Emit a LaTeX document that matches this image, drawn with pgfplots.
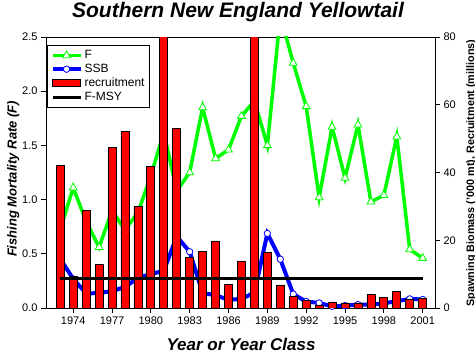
\documentclass[border=0pt]{standalone}
\usepackage{fontspec}
\setmainfont{Liberation Sans}
\usepackage{pgfplots}
\usepackage{pgfplotstable}
\pgfplotsset{compat=1.18}
\definecolor{fgreen}{RGB}{0,255,0}
\definecolor{sblue}{RGB}{0,0,255}
\definecolor{rred}{RGB}{255,0,0}
\pgfplotsset{
  longline legend/.style={legend image code/.code={\draw[mark repeat=2, mark phase=2, ##1]
    plot coordinates {(0bp,0bp) (14bp,0bp) (28bp,0bp)};}},
  rbar legend/.style={legend image code/.code={\draw[##1] (0bp,-3.5bp) rectangle (28bp,3.5bp);}},
}

\pgfplotstableread{
year F SSB R
1973 0.72 14.5 42.2
1974 1.11 8.6 9.2
1975 0.80 4.3 28.8
1976 0.56 4.4 12.9
1977 0.90 5.0 47.4
1978 0.72 6.2 52.2
1979 0.88 8.9 30.0
1980 1.22 10.0 41.9
1981 1.62 11.0 90
1982 1.08 21.1 53.0
1983 1.25 16.6 14.8
1984 1.85 4.4 16.8
1985 1.38 3.8 19.8
1986 1.46 2.4 7.0
1987 1.77 2.7 13.9
1988 1.91 4.5 90
1989 1.50 22.0 16.4
1990 2.70 14.4 6.8
1991 2.26 4.1 3.5
1992 1.86 1.9 2.1
1993 1.02 1.5 0.9
1994 1.67 0.5 1.8
1995 1.20 0.7 1.5
1996 1.69 1.0 1.5
1997 0.98 1.0 4.1
1998 1.04 1.4 3.2
1999 1.58 2.0 5.0
2000 0.54 2.7 2.4
2001 0.46 2.5 2.7
}\datatable

\begin{document}
\begin{tikzpicture}
\path[use as bounding box] (-46bp,-48bp) rectangle (429bp,308bp);
\pgfplotsset{
  every axis/.append style={scale only axis, width=389bp, height=271bp,
    xmin=1971.9, xmax=2001.95, at={(0,0)}, anchor=south west},
  tick label style={font=\fontsize{11bp}{13bp}\selectfont},
  /pgf/number format/assume math mode=true,
}
% left axis with F
\begin{axis}[
  ymin=0, ymax=2.5,
  ytick={0,0.5,1,1.5,2,2.5},
  y tick label style={/pgf/number format/.cd, fixed, fixed zerofill, precision=1},
  xtick={1974,1977,1980,1983,1986,1989,1992,1995,1998,2001},
  x tick label style={/pgf/number format/1000 sep={}},
  tick align=outside, xtick pos=lower, ytick pos=left,
  major tick length=5bp,
  axis line style={line width=0.8bp}, tick style={line width=0.8bp, black},
]
\addplot[fgreen, line width=3.5bp, mark=triangle*, mark size=4.5bp,
  mark options={fill=white, draw=fgreen, line width=0.8bp}]
  table[x=year,y=F]{\datatable};
\end{axis}

% SSB on right scale, beneath the bars
\begin{axis}[ymin=0, ymax=80, hide axis]
\addplot[sblue, line width=4bp, mark=*, mark size=3.2bp,
  mark options={fill=white, draw=sblue, line width=0.8bp}]
  table[x=year,y=SSB]{\datatable};
\end{axis}

% recruitment bars and right axis
\begin{axis}[
  ymin=0, ymax=80, axis y line*=right, axis x line=none,
  ytick={0,20,40,60,80}, tick align=outside, major tick length=5bp,
  axis line style={line width=0.8bp}, tick style={line width=0.8bp, black},
]
\addplot[ybar, bar width=8bp, bar shift=0pt, fill=rred, draw=black, line width=0.8bp]
  table[x=year,y=R]{\datatable};
\end{axis}

% F-MSY and legend
\begin{axis}[
  ymin=0, ymax=2.5, hide axis,
  legend cell align=left,
  legend style={at={(axis description cs:0.003,0.970)}, anchor=north west,
    draw=black, line width=0.8bp, fill=white,
    font=\fontsize{12bp}{14bp}\selectfont,
    inner xsep=3bp, inner ysep=3bp, row sep=0bp,
    nodes={inner sep=2bp}},
]
\addlegendimage{longline legend, fgreen, line width=3.5bp, mark=triangle*, mark size=4.5bp,
  mark options={fill=white, draw=fgreen, line width=0.8bp}}
\addlegendentry{F}
\addlegendimage{longline legend, sblue, line width=4bp, mark=*, mark size=3.2bp,
  mark options={fill=white, draw=sblue, line width=0.8bp}}
\addlegendentry{SSB}
\addlegendimage{rbar legend, fill=rred, draw=black, line width=0.8bp}
\addlegendentry{recruitment\hspace{4bp}}
\addplot[longline legend, black, line width=2.5bp] coordinates {(1973,0.27) (2001,0.27)};
\addlegendentry{F-MSY}
\end{axis}

\node[font=\fontsize{21bp}{23bp}\selectfont\bfseries\itshape, anchor=base]
  at (192bp,290bp) {Southern New England Yellowtail};
\node[font=\fontsize{17bp}{19bp}\selectfont\bfseries\itshape, anchor=base]
  at (195bp,-42bp) {Year or Year Class};
\node[font=\fontsize{13bp}{15bp}\selectfont\bfseries\itshape, anchor=base, rotate=90]
  at (-29.5bp,129bp) {Fishing Mortality Rate (F)};
\node[font=\fontsize{10.8bp}{12bp}\selectfont\bfseries, anchor=base, rotate=90]
  at (428bp,135bp) {Spawning Biomass ('000 mt), Recruitment (millions)};
\end{tikzpicture}
\end{document}
